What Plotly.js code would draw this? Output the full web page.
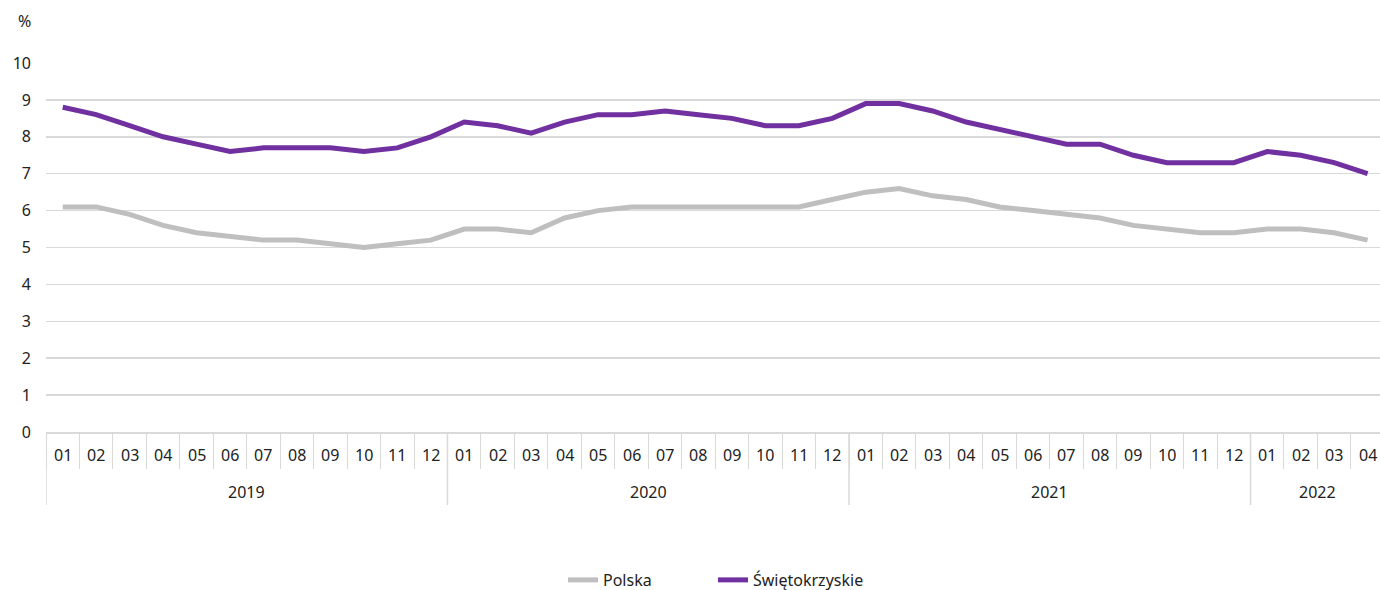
<!DOCTYPE html>
<html>
<head>
<meta charset="utf-8">
<script src="https://cdn.plot.ly/plotly-3.0.1.min.js"></script>
<style>html,body{margin:0;padding:0;background:#fff;}#chart{width:1380px;height:590px;}</style>
</head>
<body>
<div id="chart"></div>
<script>
const years = ["2019","2020","2021","2022"];
const monthsPerYear = [12, 12, 12, 4];
const monthLabels = ["01","02","03","04","05","06","07","08","09","10","11","12"];
const polska = [6.1,6.1,5.9,5.6,5.4,5.3,5.2,5.2,5.1,5.0,5.1,5.2,
                5.5,5.5,5.4,5.8,6.0,6.1,6.1,6.1,6.1,6.1,6.1,6.3,
                6.5,6.6,6.4,6.3,6.1,6.0,5.9,5.8,5.6,5.5,5.4,5.4,
                5.5,5.5,5.4,5.2];
const swietokrzyskie = [8.8,8.6,8.3,8.0,7.8,7.6,7.7,7.7,7.7,7.6,7.7,8.0,
                8.4,8.3,8.1,8.4,8.6,8.6,8.7,8.6,8.5,8.3,8.3,8.5,
                8.9,8.9,8.7,8.4,8.2,8.0,7.8,7.8,7.5,7.3,7.3,7.3,
                7.6,7.5,7.3,7.0];
const seriesNames = ["Polska","Świętokrzyskie"];
const yTicks = [0,1,2,3,4,5,6,7,8,9,10];

// Build category keys (year-month) from the arrays above
const cats = [], monthRow = [];
years.forEach((y, i) => {
  for (let m = 0; m < monthsPerYear[i]; m++) { cats.push(y + "-" + monthLabels[m]); monthRow.push(monthLabels[m]); }
});
const nCat = cats.length;

const fam = "'Noto Sans', 'Open Sans', sans-serif";
const txt = "#222";
const gridC = "#d9d9d9";

const traces = [
  {x: cats, y: polska, name: seriesNames[0], type: "scatter", mode: "lines",
   line: {color: "#bfbfbf", width: 5}},
  {x: cats, y: swietokrzyskie, name: seriesNames[1], type: "scatter", mode: "lines",
   line: {color: "#7030a0", width: 5}}
];

// Axis label annotations (month row, year row) and year dividers, placed via the category axis
const annotations = [];
const shapes = [];
monthRow.forEach((m, i) => {
  annotations.push({text: m, x: i, xref: "x", y: 0, yref: "paper", yshift: -23,
    xanchor: "center", yanchor: "middle", showarrow: false, font: {family: fam, size: 16, color: txt}});
});
let start = 0;
years.forEach((y, i) => {
  const end = start + monthsPerYear[i] - 1;
  annotations.push({text: y, x: (start + end) / 2, xref: "x", y: 0, yref: "paper", yshift: -60,
    xanchor: "center", yanchor: "middle", showarrow: false, font: {family: fam, size: 16, color: txt}});
  shapes.push({type: "line", xref: "x", yref: "paper", ysizemode: "pixel", yanchor: 0,
    x0: start - 0.5, x1: start - 0.5, y0: 0, y1: -73, line: {color: gridC, width: 1.5}});
  start = end + 1;
});
annotations.push({text: "%", xref: "paper", yref: "paper", x: -0.016, y: 1.115, xanchor: "center", yanchor: "middle",
  showarrow: false, font: {family: fam, size: 16, color: txt}});

const layout = {
  width: 1380, height: 590,
  margin: {l: 46, r: 0, t: 63, b: 158, autoexpand: false},
  paper_bgcolor: "#fff", plot_bgcolor: "#fff",
  font: {family: fam, size: 16, color: txt},
  showlegend: true,
  legend: {orientation: "h", x: 0.5, xanchor: "center", y: -0.401, yanchor: "middle",
           entrywidth: 105, entrywidthmode: "pixels",
           font: {family: fam, size: 16, color: txt}},
  xaxis: {type: "category", range: [-0.5, nCat - 0.63], autorange: false, automargin: false,
          showgrid: false, zeroline: false, showticklabels: false,
          showline: true, linecolor: gridC, linewidth: 1.5,
          ticks: "outside", tickson: "boundaries", ticklen: 35, tickcolor: gridC, tickwidth: 1},
  yaxis: {range: [0, 10], tickvals: yTicks, showgrid: true, gridcolor: gridC, gridwidth: 1.5,
          zeroline: false, showline: false, ticks: "", ticklabelstandoff: 14, automargin: false,
          tickfont: {family: fam, size: 16, color: txt}},
  annotations: annotations,
  shapes: shapes
};

Plotly.newPlot("chart", traces, layout, {displayModeBar: false, staticPlot: true});
</script>
</body>
</html>
